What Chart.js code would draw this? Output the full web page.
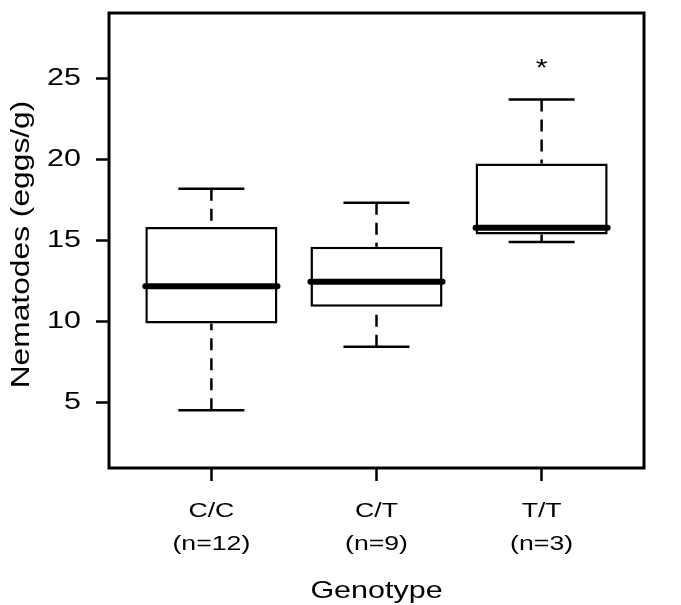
<!DOCTYPE html>
<html>
<head>
<meta charset="utf-8">
<script src="https://cdn.jsdelivr.net/npm/chart.js@4.4.0/dist/chart.umd.min.js"></script>
<style>
  html, body { margin: 0; padding: 0; background: #fff; }
  #wrap { width: 681px; height: 605px; }
</style>
</head>
<body>
<div id="wrap"><canvas id="chart" width="681" height="605"></canvas></div>
<script>
/* data */
var GENOTYPES = ['C/C', 'C/T', 'T/T'];
var SAMPLE_N  = ['(n=12)', '(n=9)', '(n=3)'];
var X_POS     = [1, 2, 3];
var WHISK_LO  = [4.52, 8.44, 14.90];
var Q1        = [9.88, 10.91, 15.37];
var MEDIAN    = [12.18, 12.45, 15.78];
var Q3        = [15.84, 14.61, 19.75];
var WHISK_HI  = [18.19, 17.33, 23.70];
var STAR_X    = [3];
var STAR_Y    = [26.0];
var Y_TICKS   = [5, 10, 15, 20, 25];
var Y_TITLE   = 'Nematodes (eggs/g)';

var FONT = 'Arial, "Liberation Sans", Helvetica, sans-serif';
var BOX_HALF = 0.4, CAP_HALF = 0.2;
var TEXT_STRETCH = 1.27;   // the figure's lettering is drawn wide

function seg(ctx, x1, y1, x2, y2) {
  ctx.beginPath();
  ctx.moveTo(x1, y1);
  ctx.lineTo(x2, y2);
  ctx.stroke();
}

/* widen every label along its writing direction, around its anchor */
var wideText = {
  id: 'wideText',
  beforeInit: function(chart) {
    var ctx = chart.ctx, fill = ctx.fillText;
    ctx.fillText = function(text, x, y, maxWidth) {
      this.save();
      this.translate(x, y);
      this.scale(TEXT_STRETCH, 1);
      if (maxWidth === undefined) fill.call(this, text, 0, 0);
      else fill.call(this, text, 0, 0, maxWidth);
      this.restore();
    };
  }
};

/* whiskers, caps, medians, star and frame drawn off the chart scales */
var boxPlot = {
  id: 'boxPlot',
  beforeDatasetsDraw: function(chart) {
    var ctx = chart.ctx, x = chart.scales.x, y = chart.scales.y;
    ctx.save();
    ctx.strokeStyle = '#000';
    ctx.lineWidth = 2.5;
    ctx.lineCap = 'butt';
    X_POS.forEach(function(v, i) {
      var cx = x.getPixelForValue(v);
      var cw = x.getPixelForValue(v + CAP_HALF) - cx;
      ctx.setLineDash([12, 8]);
      seg(ctx, cx, y.getPixelForValue(WHISK_HI[i]), cx, y.getPixelForValue(Q3[i]));
      seg(ctx, cx, y.getPixelForValue(WHISK_LO[i]), cx, y.getPixelForValue(Q1[i]));
      ctx.setLineDash([]);
      seg(ctx, cx - cw, y.getPixelForValue(WHISK_HI[i]), cx + cw, y.getPixelForValue(WHISK_HI[i]));
      seg(ctx, cx - cw, y.getPixelForValue(WHISK_LO[i]), cx + cw, y.getPixelForValue(WHISK_LO[i]));
    });
    ctx.restore();
  },
  afterDatasetsDraw: function(chart) {
    var ctx = chart.ctx, x = chart.scales.x, y = chart.scales.y;
    ctx.save();
    ctx.strokeStyle = '#000';
    ctx.lineWidth = 6;
    ctx.lineCap = 'round';
    X_POS.forEach(function(v, i) {
      var my = y.getPixelForValue(MEDIAN[i]);
      seg(ctx, x.getPixelForValue(v - BOX_HALF), my, x.getPixelForValue(v + BOX_HALF), my);
    });
    ctx.fillStyle = '#000';
    ctx.font = '24px ' + FONT;
    ctx.textAlign = 'center';
    ctx.textBaseline = 'alphabetic';
    STAR_X.forEach(function(v, i) {
      ctx.fillText('*', x.getPixelForValue(v), y.getPixelForValue(STAR_Y[i]) + 14);
    });
    ctx.restore();
  },
  afterDraw: function(chart) {
    var ctx = chart.ctx, a = chart.chartArea;
    ctx.save();
    ctx.strokeStyle = '#000';
    ctx.lineWidth = 3;
    ctx.strokeRect(a.left, a.top, a.right - a.left, a.bottom - a.top);
    // y axis title
    ctx.fillStyle = '#000';
    ctx.font = '25px ' + FONT;
    ctx.textAlign = 'center';
    ctx.textBaseline = 'middle';
    ctx.translate(22, (a.top + a.bottom) / 2 + 4);
    ctx.rotate(-Math.PI / 2);
    ctx.fillText(Y_TITLE, 0, 0);
    ctx.restore();
  }
};

var el = document.getElementById('chart');
new Chart(el, {
  type: 'bar',
  data: {
    datasets: [{
      data: X_POS.map(function(v, i) { return { x: v, y: [Q1[i], Q3[i]] }; }),
      backgroundColor: '#fff',
      borderColor: '#000',
      borderWidth: 2.5,
      borderSkipped: false,
      barPercentage: 0.8,
      categoryPercentage: 1.0
    }]
  },
  options: {
    responsive: false,
    animation: false,
    layout: { padding: { top: 13, right: 37, left: 0, bottom: 0 } },
    plugins: { legend: { display: false }, tooltip: { enabled: false } },
    scales: {
      x: {
        type: 'linear',
        min: 0.38,
        max: 3.62,
        offset: false,
        afterBuildTicks: function(s) { s.ticks = X_POS.map(function(v) { return { value: v }; }); },
        afterFit: function(s) { s.height = 137; s.paddingLeft = 0; s.paddingRight = 0; },
        grid: { offset: false, drawOnChartArea: false, drawTicks: true, tickLength: 13, tickWidth: 2.5, tickColor: '#000' },
        border: { display: false },
        ticks: {
          color: '#000',
          padding: 14,
          maxRotation: 0,
          font: { family: FONT, size: 21, lineHeight: 1.57 },
          callback: function(v) {
            var i = X_POS.indexOf(v);
            return i < 0 ? '' : [GENOTYPES[i], SAMPLE_N[i]];
          }
        },
        title: {
          display: true,
          text: 'Genotype',
          color: '#000',
          font: { family: FONT, size: 24, lineHeight: 1.1 },
          padding: { top: 0, bottom: 0 }
        }
      },
      y: {
        type: 'linear',
        min: 0.96,
        max: 29.04,
        afterBuildTicks: function(s) { s.ticks = Y_TICKS.map(function(v) { return { value: v }; }); },
        afterFit: function(s) { s.width = 109; s.paddingTop = 0; s.paddingBottom = 0; },
        grid: { drawOnChartArea: false, drawTicks: true, tickLength: 13, tickWidth: 2.5, tickColor: '#000' },
        border: { display: false },
        ticks: {
          color: '#000',
          padding: 15,
          font: { family: FONT, size: 24 }
        }
      }
    }
  },
  plugins: [wideText, boxPlot]
});
</script>
</body>
</html>
